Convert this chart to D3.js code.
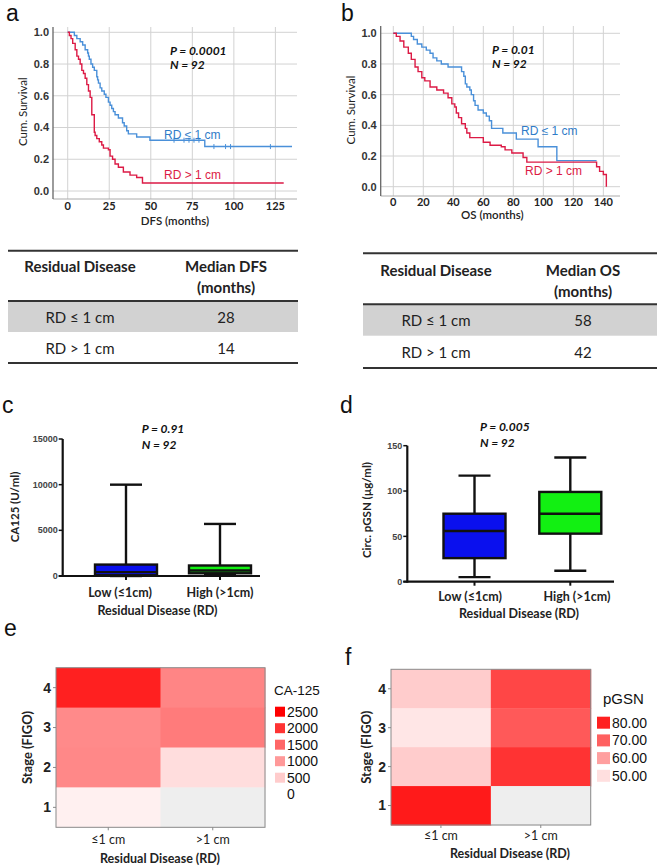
<!DOCTYPE html>
<html><head><meta charset="utf-8">
<script src="https://cdn.jsdelivr.net/npm/d3@7"></script>
<style>body{margin:0;background:#fff} svg{display:block}</style>
</head><body>
<svg id="chart" width="658" height="866"></svg>
<script>
// ---------------- DATA ----------------
// Panel a: DFS Kaplan-Meier (months, cumulative survival)
const dfsLowT  = [0, 4, 5.5, 7.5, 9, 10.5, 12, 12.5, 13, 14, 15, 16, 17.5, 18, 18.5, 19.5, 20.5, 22, 23, 24.5, 25.5, 26.5, 27.5, 28.5, 30.5, 33, 34, 35.5, 36.5, 41.5, 49.5, 82.5, 135];
const dfsLowS  = [1, 0.98, 0.96, 0.94, 0.92, 0.89, 0.87, 0.85, 0.83, 0.80, 0.78, 0.76, 0.72, 0.70, 0.68, 0.65, 0.63, 0.61, 0.59, 0.56, 0.54, 0.52, 0.50, 0.48, 0.46, 0.43, 0.41, 0.38, 0.36, 0.34, 0.32, 0.28, 0.28];
const dfsLowCensor = [64, 70, 73, 76, 79, 88, 95, 98, 122];
const dfsHighT = [0, 1, 2, 3, 4.5, 5.5, 6.5, 7.5, 8.5, 9.5, 10.5, 11.5, 12.5, 13.5, 14.5, 16, 16.5, 17.5, 19, 20.5, 21.5, 24.5, 25.5, 27, 28.5, 30.5, 33.5, 37.5, 41.5, 45, 130];
const dfsHighS = [1, 0.98, 0.96, 0.93, 0.89, 0.85, 0.83, 0.80, 0.76, 0.74, 0.71, 0.67, 0.63, 0.59, 0.48, 0.37, 0.35, 0.33, 0.31, 0.29, 0.27, 0.26, 0.22, 0.20, 0.17, 0.15, 0.12, 0.10, 0.085, 0.05, 0.05];
const dfsTicks = [0, 25, 50, 75, 100, 125];
// Panel b: OS Kaplan-Meier
const osLowT  = [0, 12, 13.5, 16, 19, 22, 24.5, 26.5, 29, 32, 36.5, 45.5, 47, 48, 49, 51, 52, 53.5, 54.5, 56.5, 60, 62, 64, 65.5, 73, 82, 96.5, 109, 135.5];
const osLowS  = [1, 0.98, 0.96, 0.93, 0.91, 0.89, 0.87, 0.84, 0.82, 0.80, 0.78, 0.75, 0.72, 0.67, 0.65, 0.63, 0.60, 0.56, 0.53, 0.50, 0.48, 0.46, 0.43, 0.38, 0.35, 0.31, 0.26, 0.17, 0.17];
const osHighT = [0, 2, 4.5, 7, 10, 12, 14.5, 16.5, 19, 21, 24.5, 29, 33.5, 36.5, 39, 41, 42, 43.5, 45.5, 48, 49, 51, 60, 64.5, 72, 74.5, 79, 86.5, 89, 135.5, 137.5, 140, 142];
const osHighS = [1, 0.98, 0.95, 0.91, 0.87, 0.83, 0.78, 0.75, 0.71, 0.69, 0.65, 0.63, 0.61, 0.58, 0.54, 0.52, 0.48, 0.45, 0.41, 0.38, 0.35, 0.32, 0.29, 0.27, 0.26, 0.24, 0.22, 0.19, 0.16, 0.13, 0.10, 0.08, 0];
const osTicks = [0, 20, 40, 60, 80, 100, 120, 140];
const survTicks = [0, 0.2, 0.4, 0.6, 0.8, 1.0];
// Tables
const tableGroups = ["RD \u2264 1 cm", "RD > 1 cm"];
const medianDFS = [28, 14];
const medianOS = [58, 42];
// Panel c / d: box plots [min, q1, median, q3, max]
const boxGroups = ["Low (\u22641cm)", "High (>1cm)"];
const ca125Box = [[0, 80, 420, 1250, 10000], [100, 300, 600, 1150, 5700]];
const ca125Ticks = [0, 5000, 10000, 15000];
const pgsnBox = [[5, 26, 56, 75, 117], [12, 53, 75, 99, 137]];
const pgsnTicks = [0, 50, 100, 150];
// Panel e / f: heatmaps (stage x residual disease), null = no data
const heatCols = ["\u22641 cm", ">1 cm"];
const heatRows = [4, 3, 2, 1];
const ca125Heat = [[2190, 1200], [1150, 1290], [1170, 330], [150, null]];
const ca125Legend = [2500, 2000, 1500, 1000, 500, 0];
const pgsnHeat = [[53, 74], [49, 71], [53, 77], [81, null]];
const pgsnLegend = [80, 70, 60, 50];

// ---------------- DRAW ----------------
const svg = d3.select("#chart");
const CAL = "Lato, 'Open Sans', sans-serif";
const ARI = "'Liberation Sans', Arial, sans-serif";
const BLUE = "#4a90d9", BLUE_T = "#2f7cc8", RED = "#dc1a45";

function panelLabel(t, x, y) {
  svg.append("text").attr("x", x).attr("y", y).text(t)
    .attr("font-family", ARI).attr("font-size", 23).attr("fill", "#111");
}

function drawKM(c) {
  const g = svg.append("g");
  const x = d3.scaleLinear().domain(c.xDomain).range([c.left, c.right]);
  const y = d3.scaleLinear().domain([0, 1]).range([c.y0, c.y1]);
  g.selectAll(".vg").data(c.xTicks).join("line")
    .attr("x1", d => x(d)).attr("x2", d => x(d)).attr("y1", c.top).attr("y2", c.bottom)
    .attr("stroke", "#d2d2d2").attr("stroke-width", 1);
  g.selectAll(".hg").data(survTicks).join("line")
    .attr("x1", c.left).attr("x2", c.right).attr("y1", d => y(d)).attr("y2", d => y(d))
    .attr("stroke", "#d2d2d2").attr("stroke-width", 1);
  g.append("line").attr("x1", c.left).attr("x2", c.right).attr("y1", c.bottom).attr("y2", c.bottom)
    .attr("stroke", "#aaa");
  g.append("line").attr("x1", c.left).attr("x2", c.left).attr("y1", c.top).attr("y2", c.bottom)
    .attr("stroke", "#666").attr("stroke-width", 1.3);
  g.selectAll(".yl").data(survTicks).join("text")
    .attr("x", c.left - 4).attr("y", d => y(d)).attr("dy", "0.35em").attr("text-anchor", "end")
    .text(d => d.toFixed(1)).attr("font-family", ARI).attr("font-weight", "bold")
    .attr("font-size", 11).attr("fill", "#333");
  g.selectAll(".xl").data(c.xTicks).join("text")
    .attr("x", d => x(d)).attr("y", c.xLabY).attr("dy", "0.35em").attr("text-anchor", "middle")
    .text(d => d).attr("font-family", CAL).attr("font-weight", "bold")
    .attr("font-size", 11).attr("fill", "#222");
  g.append("text").attr("x", (c.left + c.right) / 2 + c.titleDx).attr("y", c.xTitleY).attr("dy", "0.35em")
    .attr("text-anchor", "middle").text(c.xTitle)
    .attr("font-family", CAL).attr("font-size", 11.5).attr("font-weight", 600).attr("fill", "#222");
  g.append("text").attr("transform", `translate(${c.left - 30},${(c.y0 + c.y1) / 2}) rotate(-90)`)
    .attr("dy", "0.35em").attr("text-anchor", "middle").text("Cum. Survival")
    .attr("font-family", CAL).attr("font-size", 11.5).attr("fill", "#222");
  const line = d3.line().x(d => x(d[0])).y(d => y(d[1])).curve(d3.curveStepAfter);
  c.series.forEach(s => {
    const pts = s.t.map((t, i) => [t, s.s[i]]);
    g.append("path").attr("d", line(pts)).attr("fill", "none")
      .attr("stroke", s.color).attr("stroke-width", 1.4);
    if (s.censor) {
      const step = d3.scaleThreshold().domain(s.t.slice(1)).range(s.s);
      g.selectAll(null).data(s.censor).join("line")
        .attr("x1", d => x(d)).attr("x2", d => x(d))
        .attr("y1", d => y(step(d)) - 2.5).attr("y2", d => y(step(d)) + 2.5)
        .attr("stroke", s.color).attr("stroke-width", 1);
    }
    g.append("text").attr("x", s.lx).attr("y", s.ly).attr("dy", "0.35em").text(s.label)
      .attr("font-family", ARI).attr("font-size", 12).attr("fill", s.textColor);
  });
  g.append("text").attr("x", c.px).attr("y", c.py).attr("dy", "0.35em")
    .text(c.pText).attr("font-family", CAL).attr("font-weight", "bold").attr("font-style", "italic")
    .attr("font-size", 12).attr("fill", "#111");
  g.append("text").attr("x", c.px).attr("y", c.py + 14).attr("dy", "0.35em")
    .text("N = 92").attr("font-family", CAL).attr("font-weight", "bold").attr("font-style", "italic")
    .attr("font-size", 12).attr("fill", "#111");
}

panelLabel("a", 6, 21);
drawKM({
  left: 53, right: 297, top: 27, bottom: 199, y0: 191, y1: 32.3,
  xDomain: [-8.85, 138], xTicks: dfsTicks, xLabY: 206, xTitleY: 221, titleDx: 0,
  xTitle: "DFS (months)", px: 170, py: 51, pText: "P = 0.0001",
  series: [
    {t: dfsLowT, s: dfsLowS, color: BLUE, textColor: BLUE_T, censor: dfsLowCensor, label: "RD \u2264 1 cm", lx: 164, ly: 135},
    {t: dfsHighT, s: dfsHighS, color: RED, textColor: RED, label: "RD > 1 cm", lx: 164, ly: 175}
  ]
});
panelLabel("b", 341, 21);
drawKM({
  left: 380.7, right: 620, top: 26, bottom: 196, y0: 186.7, y1: 33.3,
  xDomain: [-8.4, 151.1], xTicks: osTicks, xLabY: 202, xTitleY: 215, titleDx: -8,
  xTitle: "OS (months)", px: 492, py: 50, pText: "P = 0.01",
  series: [
    {t: osLowT, s: osLowS, color: BLUE, textColor: BLUE_T, label: "RD \u2264 1 cm", lx: 521, ly: 131},
    {t: osHighT, s: osHighS, color: RED, textColor: RED, label: "RD > 1 cm", lx: 525, ly: 171}
  ]
});

// ---- tables ----
function drawTable(c) {
  const g = svg.append("g");
  g.append("rect").attr("x", c.x0).attr("width", c.x1 - c.x0).attr("y", c.hLine).attr("height", c.grayH)
    .attr("fill", "#d2d2d2");
  [c.top, c.hLine, c.bottom].forEach(yy => g.append("line").attr("x1", c.x0).attr("x2", c.x1)
    .attr("y1", yy).attr("y2", yy).attr("stroke", "#333").attr("stroke-width", 2));
  const hdr = (t, x, y) => g.append("text").attr("x", x).attr("y", y).attr("dy", "0.35em")
    .attr("text-anchor", "middle").text(t).attr("font-family", CAL).attr("font-weight", "bold")
    .attr("font-size", 15).attr("fill", "#222");
  hdr("Residual Disease", c.c1, c.h1);
  hdr(c.head, c.c2, c.h1);
  hdr("(months)", c.c2, c.h2);
  tableGroups.forEach((t, i) => {
    g.append("text").attr("x", c.c1).attr("y", c.rows[i]).attr("dy", "0.35em").attr("text-anchor", "middle")
      .text(t).attr("font-family", CAL).attr("font-size", 15).attr("fill", "#222");
    g.append("text").attr("x", c.c2).attr("y", c.rows[i]).attr("dy", "0.35em").attr("text-anchor", "middle")
      .text(c.vals[i]).attr("font-family", CAL).attr("font-size", 15).attr("fill", "#222");
  });
}
drawTable({x0: 8, x1: 298, top: 250.7, hLine: 301, grayH: 31, bottom: 363, c1: 80, c2: 226,
  h1: 266.7, h2: 287.7, rows: [317.5, 349], head: "Median DFS", vals: medianDFS});
drawTable({x0: 363, x1: 657, top: 253.3, hLine: 304.3, grayH: 31.4, bottom: 368, c1: 436, c2: 583,
  h1: 270.7, h2: 291.7, rows: [320.5, 353], head: "Median OS", vals: medianOS});

// ---- box plots ----
function drawBox(c) {
  const g = svg.append("g");
  const y = d3.scaleLinear().domain(c.yDomain).range([c.y0, c.y1]);
  const x = d3.scaleOrdinal().domain(boxGroups).range(c.centers);
  g.append("line").attr("x1", c.axisX).attr("x2", c.axisX).attr("y1", y(c.yDomain[1])).attr("y2", c.y0 + 1)
    .attr("stroke", "#111").attr("stroke-width", 2.2);
  g.append("line").attr("x1", c.axisX - 4).attr("x2", c.xEnd).attr("y1", c.y0).attr("y2", c.y0)
    .attr("stroke", "#111").attr("stroke-width", 2.2);
  g.selectAll(null).data(c.ticks).join("line")
    .attr("x1", c.axisX - 4).attr("x2", c.axisX).attr("y1", d => y(d)).attr("y2", d => y(d))
    .attr("stroke", "#111").attr("stroke-width", 1.5);
  g.selectAll(null).data(c.ticks).join("text")
    .attr("x", c.axisX - 5).attr("y", d => y(d)).attr("dy", "0.35em").attr("text-anchor", "end")
    .text(d => d).attr("font-family", ARI).attr("font-size", 9).attr("font-weight", "bold").attr("fill", "#444");
  boxGroups.forEach((grp, i) => {
    const v = c.data[i], cx = x(grp), w = 62, cw = 32;
    g.append("line").attr("x1", cx).attr("x2", cx).attr("y1", c.y0).attr("y2", c.y0 + 4)
      .attr("stroke", "#111").attr("stroke-width", 2);
    g.append("line").attr("x1", cx).attr("x2", cx).attr("y1", y(v[4])).attr("y2", y(v[0]))
      .attr("stroke", "#111").attr("stroke-width", 2.4);
    [v[0], v[4]].forEach(val => g.append("line").attr("x1", cx - cw / 2).attr("x2", cx + cw / 2)
      .attr("y1", y(val)).attr("y2", y(val)).attr("stroke", "#111").attr("stroke-width", 2.4));
    g.append("rect").attr("x", cx - w / 2).attr("width", w).attr("y", y(v[3])).attr("height", y(v[1]) - y(v[3]))
      .attr("fill", c.colors[i]).attr("stroke", "#111").attr("stroke-width", 2.4);
    g.append("line").attr("x1", cx - w / 2).attr("x2", cx + w / 2).attr("y1", y(v[2])).attr("y2", y(v[2]))
      .attr("stroke", "#111").attr("stroke-width", 2.4);
    g.append("text").attr("x", c.labX[i]).attr("y", c.labY).attr("dy", "0.35em").attr("text-anchor", "middle")
      .text(grp).attr("font-family", CAL).attr("font-weight", "bold").attr("font-size", 12.5).attr("fill", "#222");
  });
  g.append("text").attr("x", c.titleX).attr("y", c.titleY).attr("dy", "0.35em").attr("text-anchor", "middle")
    .text("Residual Disease (RD)").attr("font-family", CAL).attr("font-weight", "bold").attr("font-size", 12.5).attr("fill", "#222");
  g.append("text").attr("transform", `translate(${c.yTitleX},${c.yTitleY}) rotate(-90)`).attr("dy", "0.35em")
    .attr("text-anchor", "middle").text(c.yTitle).attr("font-family", CAL).attr("font-weight", "bold")
    .attr("font-size", 11.5).attr("fill", "#222");
  g.append("text").attr("x", c.px).attr("y", c.py).attr("dy", "0.35em").text(c.pText)
    .attr("font-family", CAL).attr("font-weight", "bold").attr("font-style", "italic").attr("font-size", 12).attr("fill", "#111");
  g.append("text").attr("x", c.px).attr("y", c.py + 16).attr("dy", "0.35em").text("N = 92")
    .attr("font-family", CAL).attr("font-weight", "bold").attr("font-style", "italic").attr("font-size", 12).attr("fill", "#111");
}
panelLabel("c", 2, 413);
drawBox({yDomain: [0, 15000], y0: 576, y1: 439, axisX: 62.7, xEnd: 260, centers: [126, 220],
  ticks: ca125Ticks, data: ca125Box, colors: ["#0a10ee", "#12f012"], labX: [120, 220], labY: 593,
  titleX: 157.5, titleY: 610.5, yTitle: "CA125 (U/ml)", yTitleX: 15, yTitleY: 507,
  px: 141.7, py: 429, pText: "P = 0.91"});
panelLabel("d", 340, 413);
drawBox({yDomain: [0, 150], y0: 581.7, y1: 445.7, axisX: 407.3, xEnd: 614, centers: [474.5, 570.3],
  ticks: pgsnTicks, data: pgsnBox, colors: ["#0a10ee", "#12f012"], labX: [470, 577], labY: 596.5,
  titleX: 519, titleY: 614, yTitle: "Circ. pGSN (\u00b5g/ml)", yTitleX: 366.5, yTitleY: 510,
  px: 480, py: 427, pText: "P = 0.005"});

// ---- heatmaps ----
function drawHeat(c) {
  const g = svg.append("g");
  const x = d3.scaleBand().domain(heatCols).range([c.x0, c.x1]);
  const y = d3.scaleBand().domain(heatRows).range([c.y0, c.y1]);
  const col = d3.scaleLinear().domain(c.cDomain).range(["#ffffff", "#ff0000"]).clamp(true);
  heatRows.forEach((r, i) => heatCols.forEach((cl, j) => {
    const v = c.data[i][j];
    g.append("rect").attr("x", x(cl)).attr("y", y(r)).attr("width", x.bandwidth() + 0.5).attr("height", y.bandwidth() + 0.5)
      .attr("fill", v == null ? "#eeeeee" : col(v));
  }));
  g.append("rect").attr("x", c.x0).attr("y", c.y0).attr("width", c.x1 - c.x0).attr("height", c.y1 - c.y0)
    .attr("fill", "none").attr("stroke", "#8a8a8a").attr("stroke-width", 1);
  heatRows.forEach(r => {
    g.append("line").attr("x1", c.x0 - 3).attr("x2", c.x0).attr("y1", y(r) + y.bandwidth() / 2).attr("y2", y(r) + y.bandwidth() / 2)
      .attr("stroke", "#888");
    g.append("text").attr("x", c.x0 - 5).attr("y", y(r) + y.bandwidth() / 2).attr("dy", "0.35em").attr("text-anchor", "end")
      .text(r).attr("font-family", ARI).attr("font-weight", "bold").attr("font-size", 14).attr("fill", "#222");
  });
  heatCols.forEach(cl => {
    g.append("line").attr("x1", x(cl) + x.bandwidth() / 2).attr("x2", x(cl) + x.bandwidth() / 2)
      .attr("y1", c.y1).attr("y2", c.y1 + 3).attr("stroke", "#888");
    g.append("text").attr("x", x(cl) + x.bandwidth() / 2).attr("y", c.xLabY).attr("dy", "0.35em").attr("text-anchor", "middle")
      .text(cl).attr("font-family", CAL).attr("font-size", 12.5).attr("fill", "#222");
  });
  g.append("text").attr("x", c.titleX).attr("y", c.titleY).attr("dy", "0.35em").attr("text-anchor", "middle")
    .text("Residual Disease (RD)").attr("font-family", CAL).attr("font-weight", "bold").attr("font-size", 12.5).attr("fill", "#222");
  g.append("text").attr("transform", `translate(${c.yTitleX},${(c.y0 + c.y1) / 2}) rotate(-90)`).attr("dy", "0.35em")
    .attr("text-anchor", "middle").text("Stage (FIGO)").attr("font-family", CAL).attr("font-weight", "bold")
    .attr("font-size", 13).attr("fill", "#222");
  g.append("text").attr("x", c.legX).attr("y", c.legTitleY).attr("dy", "0.35em").text(c.legTitle)
    .attr("font-family", ARI).attr("font-size", c.legTitleSize).attr("fill", "#111");
  c.legend.forEach((v, i) => {
    const yy = c.legY0 + i * c.legStep;
    g.append("rect").attr("x", c.swX).attr("y", yy - c.swH / 2).attr("width", c.swW).attr("height", c.swH)
      .attr("fill", col(v));
    g.append("text").attr("x", c.swX + c.swW + 2).attr("y", yy).attr("dy", "0.35em").text(c.fmt(v))
      .attr("font-family", ARI).attr("font-size", 14).attr("fill", "#111");
  });
}
panelLabel("e", 4, 636);
drawHeat({x0: 56, x1: 265, y0: 667.7, y1: 827.3, cDomain: [0, 2500], data: ca125Heat,
  xLabY: 840, titleX: 160, titleY: 859, yTitleX: 27, legX: 274, legTitleY: 690, legTitle: "CA-125", legTitleSize: 13.5,
  legend: ca125Legend, legY0: 711.7, legStep: 16.5, swX: 275, swW: 10, swH: 10, fmt: d => d});
panelLabel("f", 345, 665);
drawHeat({x0: 391, x1: 590.7, y0: 669.3, y1: 825, cDomain: [45, 85], data: pgsnHeat,
  xLabY: 835.5, titleX: 510, titleY: 853.5, yTitleX: 366, legX: 603, legTitleY: 699, legTitle: "pGSN", legTitleSize: 15,
  legend: pgsnLegend, legY0: 722.7, legStep: 17.7, swX: 597, swW: 13, swH: 12, fmt: d => d.toFixed(2)});
</script>
</body></html>
